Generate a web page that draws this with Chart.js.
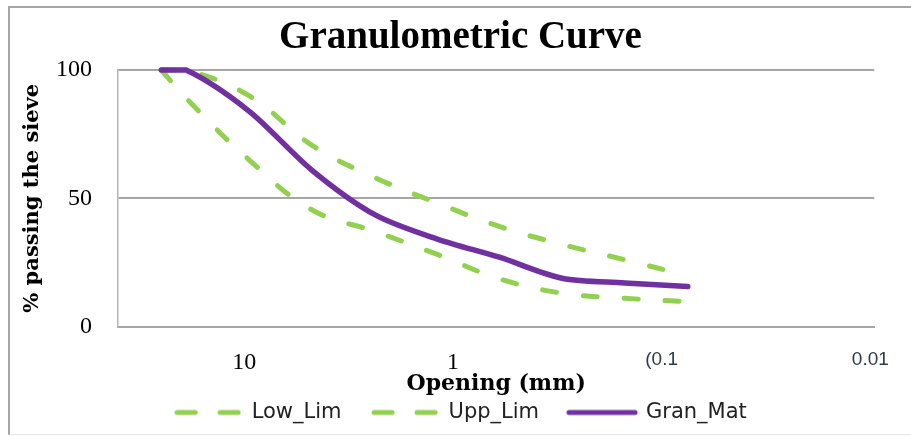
<!DOCTYPE html>
<html>
<head>
<meta charset="utf-8">
<script src="https://cdn.jsdelivr.net/npm/chart.js@4.4.1/dist/chart.umd.min.js"></script>
<style>
  body { margin: 0; background: #fff; }
  #wrap { position: relative; width: 911px; height: 436px; }
  #frame { position: absolute; left: 8px; top: 6px; width: 905px; height: 426px;
           border-left: 2px solid #a6a6a6; border-top: 2px solid #a6a6a6; border-bottom: 1px solid #e4e4e4; }
  #chart { position: absolute; left: 0; top: 0; }
</style>
</head>
<body>
<div id="wrap">
  <div id="frame"></div>
  <canvas id="chart" width="911" height="436"></canvas>
</div>
<script>
// sieve openings (mm) and % passing
var sieves = [25, 19, 9.5, 4.75, 2.36, 1.18, 0.6, 0.3, 0.15, 0.075];
var lowLim = [100, 89, 65, 45.5, 37, 28, 18.6, 13, 11, 9.7];
var uppLim = [100, 100, 90, 70.7, 58, 48, 39, 32, 26, 19.8];
var granMat = [100, 100, 84, 61, 43.5, 34, 27, 18.8, 17, 15.6];

var xTicks = [10, 1, 0.1, 0.01];
var xTickLabels = ['10', '1', '(0.1', '0.01'];
var yTicks = [0, 50, 100];

var green = '#92D050';
var purple = '#7030A0';
var grey = '#a6a6a6';

function pts(vals) {
  return sieves.map(function(s, i) { return {x: s, y: vals[i]}; });
}

// little legend swatches (dashed / solid line)
function swatch(color, w, dashed) {
  var c = document.createElement('canvas');
  c.width = w; c.height = 8;
  var g = c.getContext('2d');
  g.strokeStyle = color;
  g.lineWidth = 5;
  g.lineCap = 'round';
  g.beginPath();
  if (dashed) {
    g.moveTo(3, 4); g.lineTo(21, 4);
    g.moveTo(46, 4); g.lineTo(64, 4);
  } else {
    g.moveTo(3, 4); g.lineTo(w - 3, 4);
  }
  g.stroke();
  return c;
}

new Chart(document.getElementById('chart'), {
  type: 'line',
  data: {
    datasets: [{
      label: 'Low_Lim',
      data: pts(lowLim),
      borderColor: green,
      backgroundColor: green,
      borderWidth: 5,
      borderDash: [14, 27],
      borderCapStyle: 'round',
      pointStyle: swatch(green, 67, true),
      order: 2
    }, {
      label: 'Upp_Lim',
      data: pts(uppLim),
      borderColor: green,
      backgroundColor: green,
      borderWidth: 5,
      borderDash: [14, 27],
      borderCapStyle: 'round',
      pointStyle: swatch(green, 67, true),
      order: 1
    }, {
      label: 'Gran_Mat',
      data: pts(granMat),
      borderColor: purple,
      backgroundColor: purple,
      borderWidth: 5.5,
      borderCapStyle: 'round',
      tension: 0.3,
      pointStyle: swatch(purple, 72, false),
      order: 0
    }] // datasets
  }, // data
  options: {
    responsive: false,
    animation: false,
    elements: {
      point: { radius: 0 },
      line: { tension: 0.4 }
    },
    datasets: { line: { clip: false } },
    layout: { padding: { left: 42, right: 32, top: 0, bottom: 3 } },
    plugins: {
      title: {
        display: true,
        text: 'Granulometric Curve',
        color: '#000',
        font: { family: 'Liberation Serif', size: 39, weight: 'bold', lineHeight: 1.2 },
        padding: { top: 14.5, bottom: 8.7 }
      },
      legend: {
        position: 'bottom',
        maxHeight: 63,
        labels: {
          usePointStyle: true,
          pointStyleWidth: 67,
          padding: 29.5,
          color: '#222',
          font: { family: 'DejaVu Sans', size: 21 },
          sort: function(a, b) { return a.datasetIndex - b.datasetIndex; }
        }
      },
      tooltip: { enabled: false }
    }, // plugins
    scales: {
      x: {
        type: 'logarithmic',
        reverse: true,
        min: 0.00957,
        max: 40.3,
        afterBuildTicks: function(scale) {
          scale.ticks = xTicks.map(function(v) { return {value: v}; });
        },
        afterFit: function(scale) { scale.height = 46; },
        grid: { display: false, drawTicks: false },
        border: { display: true, color: grey, width: 2 },
        ticks: {
          autoSkip: false,
          maxRotation: 0,
          padding: 22,
          callback: function(v, i) { return xTickLabels[i]; },
          color: function(ctx) { return ctx.index < 2 ? '#000' : '#2f3a4a'; },
          font: function(ctx) {
            return ctx.index < 2 ? { family: 'Liberation Serif', size: 24 }
                                 : { family: 'Liberation Sans', size: 19 };
          }
        },
        title: {
          display: true,
          text: 'Opening (mm)',
          color: '#000',
          font: { family: 'DejaVu Serif', size: 22, weight: 'bold' },
          padding: { top: 0, bottom: -25.2 }
        }
      },
      y: {
        min: 0,
        max: 100,
        afterBuildTicks: function(scale) {
          scale.ticks = yTicks.map(function(v) { return {value: v}; });
        },
        afterFit: function(scale) { scale.width = 76; },
        grid: { color: grey, lineWidth: 2, drawTicks: false },
        border: { display: true, color: '#b4b4b4', width: 1.5 },
        ticks: {
          padding: 26,
          color: '#000',
          font: { family: 'Liberation Serif', size: 24 }
        },
        title: {
          display: true,
          text: '% passing the sieve',
          color: '#000',
          font: { family: 'DejaVu Serif', size: 21, weight: 'bold' },
          padding: { top: -21.6, bottom: 0 }
        }
      }
    } // scales
  } // options
}); // chart end
</script>
</body>
</html>
